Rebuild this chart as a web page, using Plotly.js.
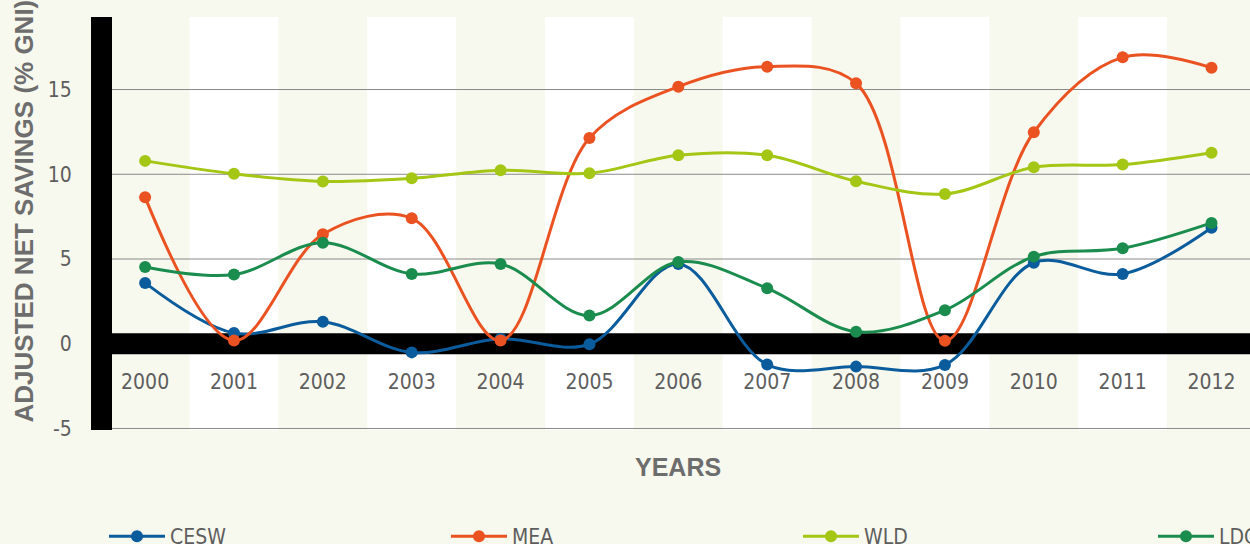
<!DOCTYPE html>
<html>
<head>
<meta charset="utf-8">
<script src="https://cdn.plot.ly/plotly-3.0.1.min.js"></script>
<style>
  html, body { margin: 0; padding: 0; background: #f7f8ee; }
  #chart { width: 1250px; height: 544px; }
</style>
</head>
<body>
<div id="chart"></div>
<script>
// ---- data ----
const years = [2000, 2001, 2002, 2003, 2004, 2005, 2006, 2007, 2008, 2009, 2010, 2011, 2012];
const yearLabels = ['2000','2001','2002','2003','2004','2005','2006','2007','2008','2009','2010','2011','2012'];
const CESW = [3.59, 0.63, 1.30, -0.51, 0.29, -0.03, 4.71, -1.23, -1.35, -1.25, 4.78, 4.12, 6.85];
const MEA  = [8.64, 0.19, 6.46, 7.40, 0.19, 12.14, 15.17, 16.35, 15.37, 0.18, 12.48, 16.90, 16.29];
const WLD  = [10.79, 10.03, 9.58, 9.76, 10.24, 10.06, 11.12, 11.12, 9.59, 8.84, 10.41, 10.57, 11.27];
const LDC  = [4.53, 4.08, 5.96, 4.12, 4.71, 1.66, 4.83, 3.27, 0.71, 1.98, 5.14, 5.63, 7.13];
const yTicks = [-5, 0, 5, 10, 15];
const gridVals = [-5, 5, 10, 15];
const seriesNames = ['CESW', 'MEA', 'WLD', 'LDC'];
const seriesValues = [CESW, MEA, WLD, LDC];
const seriesColors = ['#0a5c9c', '#eb5221', '#a4c614', '#1a8c4e'];
const legendLeft = [104, 446, 798, 1153];

const BG = '#f7f8ee';
const TICKFONT = 'Liberation Sans Narrow, Arial Narrow, DejaVu Sans Condensed, sans-serif';
const TITLEFONT = 'Liberation Sans, Arial, sans-serif';
const Y_RANGE = [-5.09, 19.28];

const legendKeys = ['legend', 'legend2', 'legend3', 'legend4'];

const traces = seriesNames.map((name, i) => ({
  type: 'scatter',
  mode: 'lines+markers',
  name: name,
  x: years,
  y: seriesValues[i],
  line: { color: seriesColors[i], width: 3, shape: 'spline', smoothing: 1 },
  marker: { color: seriesColors[i], size: 12 },
  legend: legendKeys[i],
  hoverinfo: 'x+y+name'
}));

const shapes = [];
// alternating white stripes for odd years
years.forEach((yr, i) => {
  if (i % 2 === 1) {
    shapes.push({
      type: 'rect', layer: 'below', xref: 'x', yref: 'paper',
      x0: yr - 0.5, x1: yr + 0.5, y0: 0, y1: 1,
      fillcolor: '#ffffff', line: { width: 0 }
    });
  }
});
// horizontal gridlines (no line at zero: the black band sits there)
gridVals.forEach(v => {
  shapes.push({
    type: 'line', layer: 'below', xref: 'paper', yref: 'y',
    x0: 0, x1: 1, y0: v, y1: v,
    line: { color: '#8a8a8a', width: 1 }
  });
});
// thick black zero band
shapes.push({
  type: 'rect', layer: 'below', xref: 'paper', yref: 'y',
  x0: 0, x1: 1, y0: -0.62, y1: 0.62,
  fillcolor: '#000000', line: { width: 0 }
});
// thick black vertical bar at left
shapes.push({
  type: 'rect', layer: 'above', xref: 'paper', yref: 'paper',
  x0: 0, x1: 21 / 1159, y0: 0, y1: 1,
  fillcolor: '#000000', line: { width: 0 }
});

const layout = {
  width: 1250,
  height: 544,
  paper_bgcolor: BG,
  plot_bgcolor: BG,
  margin: { l: 91, r: 0, t: 17, b: 114 },
  showlegend: true,
  xaxis: {
    type: 'linear',
    range: [1999.391, 2012.433],
    tickvals: years,
    ticktext: yearLabels,
    showgrid: false,
    zeroline: false,
    showline: false,
    anchor: 'free',
    position: 0.179,
    ticks: 'outside',
    ticklen: 7,
    tickcolor: 'rgba(0,0,0,0)',
    tickfont: { family: TICKFONT, size: 21, color: '#5e5e5e' },
    automargin: false,
    fixedrange: true
  },
  yaxis: {
    range: Y_RANGE,
    tickvals: yTicks,
    ticktext: yTicks.map(String),
    showgrid: false,
    zeroline: false,
    showline: false,
    ticks: 'outside',
    ticklen: 14,
    tickcolor: 'rgba(0,0,0,0)',
    tickfont: { family: TICKFONT, size: 21, color: '#5e5e5e' },
    automargin: false,
    fixedrange: true
  },
  shapes: shapes,
  annotations: [
    {
      text: 'ADJUSTED NET SAVINGS (% GNI)',
      textangle: -90,
      xref: 'paper', yref: 'paper',
      x: (23 - 91) / 1159, y: (430 - 425) / 413,
      xanchor: 'center', yanchor: 'bottom',
      showarrow: false,
      font: { family: TITLEFONT, size: 26, color: '#6d6d6d', weight: 'bold' }
    },
    {
      text: 'YEARS',
      xref: 'paper', yref: 'paper',
      x: (677.5 - 91) / 1159, y: (430 - 467) / 413,
      xanchor: 'center', yanchor: 'middle',
      showarrow: false,
      font: { family: TITLEFONT, size: 25, color: '#6d6d6d', weight: 'bold' }
    }
  ]
};

legendKeys.forEach((k, i) => {
  layout[k] = {
    orientation: 'h',
    xref: 'container', yref: 'container',
    x: legendLeft[i] / 1250, xanchor: 'left',
    y: 1 - 516 / 544, yanchor: 'top',
    bgcolor: 'rgba(0,0,0,0)',
    borderwidth: 0,
    itemwidth: 56,
    font: { family: TICKFONT, size: 21, color: '#5e5e5e' }
  };
});

Plotly.newPlot('chart', traces, layout, { displayModeBar: false, staticPlot: true });
</script>
</body>
</html>
